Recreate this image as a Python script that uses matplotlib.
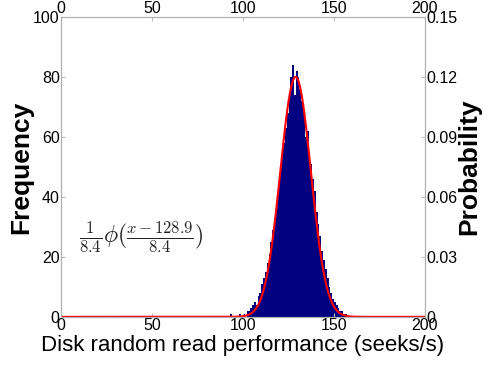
import numpy as np
import matplotlib
matplotlib.use("Agg")
import matplotlib.pyplot as plt

plt.rcParams['font.family'] = ['Liberation Sans', 'DejaVu Sans']
plt.rcParams['mathtext.fontset'] = 'cm'

# histogram counts (1 seek/s bins)
bin_left = [93, 98, 100, 102, 103, 104, 105, 106, 107, 108, 109, 110, 111, 112,
            113, 114, 115, 116, 117, 118, 119, 120, 121, 122, 123, 124, 125,
            126, 127, 128, 129, 130, 131, 132, 133, 134, 135, 136, 137, 138,
            139, 140, 141, 142, 143, 144, 145, 146, 147, 148, 149, 150, 151,
            152, 153, 154, 155, 156]
counts = [1, 1, 1, 2, 2, 3, 4, 5, 4, 7, 8, 11, 13, 15,
          18, 21, 25, 29, 33, 38, 43, 48, 54, 58, 63, 68, 73,
          80, 84, 74, 82, 80, 76, 72, 69, 60, 62, 55, 51, 46,
          42, 35, 31, 27, 22, 19, 16, 13, 10, 8, 6, 5, 4,
          3, 2, 2, 1, 1]

# fitted normal
mu = 128.9
sigma = 8.4

xticks = [0, 50, 100, 150, 200]
freq_ticks = [0, 20, 40, 60, 80, 100]
prob_ticks = [0, 0.03, 0.06, 0.09, 0.12, 0.15]
prob_labels = ['0', '0.03', '0.06', '0.09', '0.12', '0.15']

fig = plt.figure(figsize=(4.89, 3.68), dpi=100)
ax = fig.add_axes([0.125, 0.139, 0.744, 0.815])

ax.bar(bin_left, counts, width=1.0, align='edge', color='#000080', linewidth=0)

xs = np.linspace(0, 200, 800)
pdf = np.exp(-0.5 * ((xs - mu) / sigma) ** 2) / (sigma * np.sqrt(2 * np.pi))
scale = 80 / pdf.max()  # curve peak sits at ~80 counts
ax.plot(xs, scale * pdf, color='red', lw=1.5)

ax.set_xlim(0, 200)
ax.set_ylim(0, 100)
ax.set_xticks(xticks)
ax.set_yticks(freq_ticks)
ax.tick_params(direction='in', length=3, labelsize=11.5, top=True, labeltop=True,
               color='#bbbbbb', pad=1)
for s in ax.spines.values():
    s.set_color('#b0b0b0')

ax2 = ax.twinx()
ax2.set_ylim(0, 0.15)
ax2.set_yticks(prob_ticks)
ax2.set_yticklabels(prob_labels)
ax2.tick_params(direction='in', length=3, labelsize=11.5, color='#bbbbbb', pad=1)
for s in ax2.spines.values():
    s.set_color('#b0b0b0')

ax.set_ylabel('Frequency', fontsize=19, fontweight='bold', labelpad=0)
ax2.set_ylabel('Probability', fontsize=19, fontweight='bold', labelpad=0)
ax.set_xlabel('Disk random read performance (seeks/s)', fontsize=16, labelpad=1)

ax.text(10, 26.5, r'$\frac{1}{8.4}\phi(\frac{x-128.9}{8.4})$', fontsize=17, color='#222222',
        va='center', ha='left')

fig.savefig('out.png', dpi=100)
